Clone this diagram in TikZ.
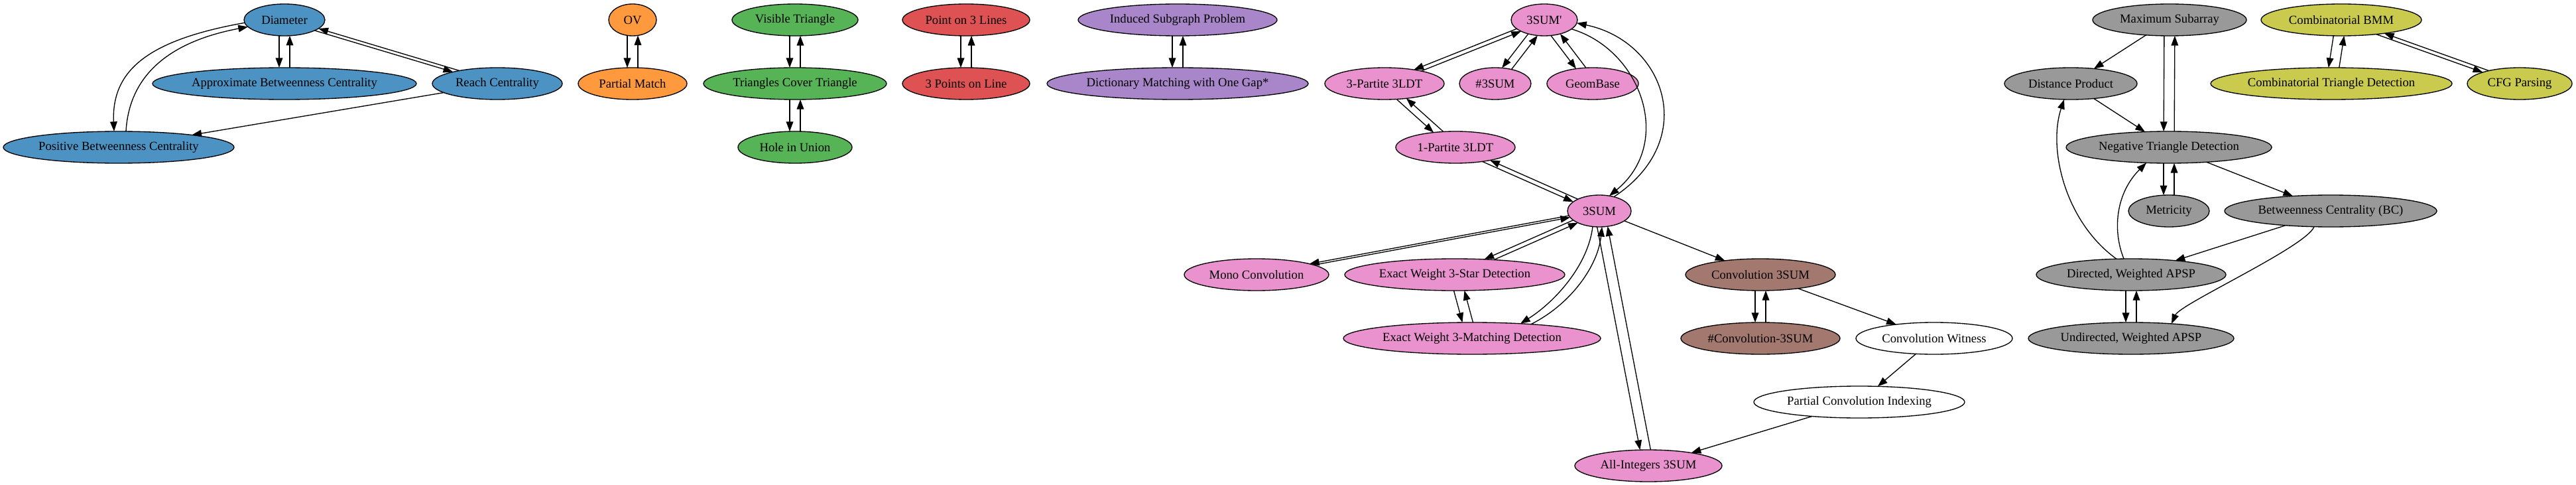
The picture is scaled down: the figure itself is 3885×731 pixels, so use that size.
\documentclass[tikz,border=0pt]{standalone}
\usepackage{fontspec}
\setmainfont{Liberation Serif}
\usetikzlibrary{shapes.geometric,arrows.meta}
\definecolor{cblue}{HTML}{4C92C3}
\definecolor{corange}{HTML}{FF993E}
\definecolor{cgreen}{HTML}{56B356}
\definecolor{cred}{HTML}{DE5253}
\definecolor{cpurple}{HTML}{A985CA}
\definecolor{cbrown}{HTML}{A3786F}
\definecolor{cpink}{HTML}{E992CE}
\definecolor{cgray}{HTML}{999999}
\definecolor{colive}{HTML}{C9CA4E}
\tikzset{
  gnode/.style={ellipse, draw=black, line width=1pt, inner sep=0pt, outer sep=0pt,
    minimum height=36pt, font=\fontsize{14}{16}\selectfont},
  gvedge/.style={draw=black, line width=1pt, -{Triangle[length=11pt,width=8pt]}}
}
% node: name, x(px), y(px), rx(px), fill, text
\newcommand\gvnode[6]{%
  \expandafter\xdef\csname gvx@#1\endcsname{#2}%
  \expandafter\xdef\csname gvy@#1\endcsname{#3}%
  \expandafter\xdef\csname gvr@#1\endcsname{#4}%
  \node[gnode, fill=#5, minimum width={1.5pt*#4}] (#1) at (#2,#3) {#6};}
% border point of node #1 on the line through its centre shifted by #3 (px, horizontal) toward node #2
\newcommand\gvbpt[4]{%
  \edef\gvAX{\csname gvx@#1\endcsname}%
  \edef\gvAY{\csname gvy@#1\endcsname}%
  \edef\gvAR{\csname gvr@#1\endcsname}%
  \edef\gvBX{\csname gvx@#2\endcsname}%
  \edef\gvBY{\csname gvy@#2\endcsname}%
  \edef\gvL{\fpeval{sqrt((\gvBX-\gvAX)^2+(\gvBY-\gvAY)^2)}}%
  \edef\gvUX{\fpeval{(\gvBX-\gvAX)/\gvL}}%
  \edef\gvUY{\fpeval{(\gvBY-\gvAY)/\gvL}}%
  \edef\gvQA{\fpeval{(\gvUX)^2/(\gvAR)^2+(\gvUY)^2/576}}%
  \edef\gvQB{\fpeval{(#3)*(\gvUX)/(\gvAR)^2}}%
  \edef\gvQC{\fpeval{(#3)^2/(\gvAR)^2-1}}%
  \edef\gvT{\fpeval{(-(\gvQB)+sqrt((\gvQB)^2-(\gvQA)*(\gvQC)))/(\gvQA)}}%
  \edef\gvPX{\fpeval{\gvAX+(#3)+(\gvT)*(\gvUX)}}%
  \edef\gvPY{\fpeval{\gvAY+(\gvT)*(\gvUY)}}%
  \coordinate (#4) at (\gvPX,\gvPY);}
% point on top (-1) or bottom (1) border of node #1 at horizontal offset #2
\newcommand\gvonb[4]{%
  \edef\gvPX{\fpeval{\csname gvx@#1\endcsname+(#2)}}%
  \edef\gvPY{\fpeval{\csname gvy@#1\endcsname+(#3)*24*sqrt(1-((#2)/\csname gvr@#1\endcsname)^2)}}%
  \coordinate (#4) at (\gvPX,\gvPY);}
% two opposite edges between upper node #1 and lower node #2
\newcommand\gvpair[2]{%
  \gvbpt{#1}{#2}{-8}{gvP}\gvbpt{#2}{#1}{-8}{gvQ}\draw[gvedge] (gvP) -- (gvQ);
  \gvbpt{#1}{#2}{8}{gvP}\gvbpt{#2}{#1}{8}{gvQ}\draw[gvedge] (gvQ) -- (gvP);}
\begin{document}
\begin{tikzpicture}[x=0.75pt,y=-0.75pt]
\fill[white] (0,0) rectangle (3885,731);
\useasboundingbox (0,0) rectangle (3885,731);
% blue
\gvnode{dia}{429}{30}{61}{cblue}{Diameter}
\gvnode{abc}{429}{126}{199}{cblue}{Approximate Betweenness Centrality}
\gvnode{reach}{750}{126}{98}{cblue}{Reach Centrality}
\gvnode{pbc}{179}{222}{174}{cblue}{Positive Betweenness Centrality}
% orange
\gvnode{ov}{954}{30}{36}{corange}{OV}
\gvnode{pm}{954}{126}{82}{corange}{Partial Match}
% green
\gvnode{vt}{1199}{30}{95}{cgreen}{Visible Triangle}
\gvnode{tct}{1199}{126}{138}{cgreen}{Triangles Cover Triangle}
\gvnode{hiu}{1199}{222}{86}{cgreen}{Hole in Union}
% red
\gvnode{plt}{1457}{30}{96}{cred}{Point on 3 Lines}
\gvnode{pol}{1457}{126}{96}{cred}{3 Points on Line}
% purple
\gvnode{isp}{1776}{30}{150}{cpurple}{Induced Subgraph Problem}
\gvnode{dmg}{1776}{126}{197}{cpurple}{Dictionary Matching with One Gap*}
% pink
\gvnode{s3p}{2329}{30}{50}{cpink}{3SUM\textquotesingle}
\gvnode{p3}{2088}{126}{90}{cpink}{3-Partite 3LDT}
\gvnode{n3}{2255}{126}{54}{cpink}{\#3SUM}
\gvnode{gb}{2402}{126}{69}{cpink}{GeomBase}
\gvnode{p1}{2195}{222}{90}{cpink}{1-Partite 3LDT}
\gvnode{s3}{2412}{318}{48}{cpink}{3SUM}
\gvnode{mono}{1895}{414}{109}{cpink}{Mono Convolution}
\gvnode{star}{2194}{414}{166}{cpink}{Exact Weight 3-Star Detection}
\gvnode{match}{2220}{510}{194}{cpink}{Exact Weight 3-Matching Detection}
\gvnode{allint}{2486}{702}{111}{cpink}{All-Integers 3SUM}
% brown
\gvnode{conv}{2655}{414}{113}{cbrown}{Convolution 3SUM}
\gvnode{nconv}{2655}{510}{120}{cbrown}{\#Convolution-3SUM}
% white
\gvnode{cw}{2917}{510}{118}{white}{Convolution Witness}
\gvnode{pci}{2804}{606}{159}{white}{Partial Convolution Indexing}
% gray
\gvnode{ms}{3272}{30}{116}{cgray}{Maximum Subarray}
\gvnode{dp}{3123}{126}{100}{cgray}{Distance Product}
\gvnode{ntd}{3271}{222}{155}{cgray}{Negative Triangle Detection}
\gvnode{met}{3271}{318}{61}{cgray}{Metricity}
\gvnode{bc}{3515}{318}{160}{cgray}{Betweenness Centrality (BC)}
\gvnode{dapsp}{3214}{414}{143}{cgray}{Directed, Weighted APSP}
\gvnode{uapsp}{3214}{510}{155}{cgray}{Undirected, Weighted APSP}
% olive
\gvnode{bmm}{3531}{30}{121}{colive}{Combinatorial BMM}
\gvnode{ctd}{3516}{126}{182}{colive}{Combinatorial Triangle Detection}
\gvnode{cfg}{3800}{126}{79}{colive}{CFG Parsing}

% two-way edges
\gvpair{dia}{abc}
\gvpair{dia}{reach}
\gvpair{ov}{pm}
\gvpair{vt}{tct}
\gvpair{tct}{hiu}
\gvpair{plt}{pol}
\gvpair{isp}{dmg}
\gvpair{s3p}{p3}
\gvpair{s3p}{n3}
\gvpair{s3p}{gb}
\gvpair{p3}{p1}
\gvpair{p1}{s3}
\gvpair{s3}{mono}
\gvpair{s3}{star}
\gvpair{star}{match}
\gvpair{s3}{allint}
\gvpair{conv}{nconv}
\gvpair{ms}{ntd}
\gvpair{ntd}{met}
\gvpair{dapsp}{uapsp}
\gvpair{bmm}{ctd}
\gvpair{bmm}{cfg}

% single straight edges
\draw[gvedge] (reach) -- (pbc);
\draw[gvedge] (s3) -- (conv);
\draw[gvedge] (conv) -- (cw);
\draw[gvedge] (cw) -- (pci);
\draw[gvedge] (pci) -- (allint);
\draw[gvedge] (ms) -- (dp);
\draw[gvedge] (dp) -- (ntd);
\draw[gvedge] (ntd) -- (bc);
\draw[gvedge] (bc) -- (dapsp);

% curved edges
\gvonb{dia}{-60}{1}{c1a}\gvonb{pbc}{-7}{-1}{c1b}
\draw[gvedge] (c1a) .. controls (225,60) and (168,105) .. (c1b);
\gvonb{pbc}{11}{-1}{c2a}\gvonb{dia}{-55}{1}{c2b}
\draw[gvedge] (c2a) .. controls (195,110) and (260,62) .. (c2b);
\gvonb{s3p}{41}{1}{c3a}\gvonb{s3}{15}{-1}{c3b}
\draw[gvedge] (c3a) .. controls (2475,75) and (2525,215) .. (c3b);
\gvonb{s3}{22}{-1}{c4a}\gvonb{s3p}{49}{1}{c4b}
\draw[gvedge] (c4a) .. controls (2565,210) and (2510,62) .. (c4b);
\gvonb{s3}{-10}{1}{c5a}\gvonb{match}{73}{-1}{c5b}
\draw[gvedge] (c5a) .. controls (2395,400) and (2345,455) .. (c5b);
\gvonb{match}{89}{-1}{c6a}\gvonb{s3}{4}{1}{c6b}
\draw[gvedge] (c6a) .. controls (2370,458) and (2410,400) .. (c6b);
\gvonb{dapsp}{-22}{-1}{c7a}\gvonb{dp}{-10}{1}{c7b}
\draw[gvedge] (c7a) .. controls (3115,335) and (3088,225) .. (c7b);
\gvonb{dapsp}{-11}{-1}{c8a}\gvonb{ntd}{-34}{1}{c8b}
\draw[gvedge] (c8a) .. controls (3185,345) and (3192,290) .. (c8b);
\gvonb{bc}{-25}{1}{c9a}\gvonb{uapsp}{61}{-1}{c9b}
\draw[gvedge] (c9a) .. controls (3478,372) and (3288,458) .. (c9b);
\end{tikzpicture}
\end{document}
